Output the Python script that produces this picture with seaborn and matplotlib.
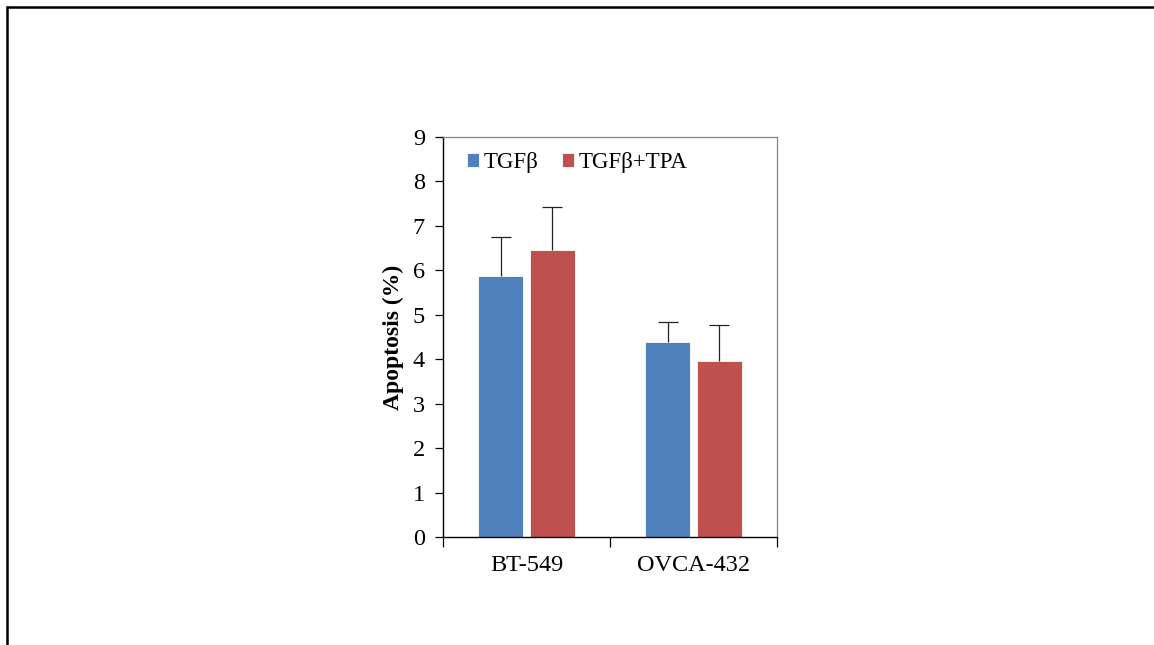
import numpy as np
import pandas as pd
import matplotlib
matplotlib.use("Agg")
import matplotlib.pyplot as plt
from matplotlib.lines import Line2D
import seaborn as sns

# values
cell_lines = ["BT-549", "OVCA-432"]
treatments = ["TGFβ", "TGFβ+TPA"]
tgfb_mean = [5.87, 4.38]
tgfb_tpa_mean = [6.45, 3.95]
tgfb_err = [0.89, 0.46]
tgfb_tpa_err = [0.98, 0.82]

colors = ["#4F81BD", "#C0504D"]

df = pd.DataFrame({
    "line": cell_lines * 2,
    "treatment": [treatments[0]] * 2 + [treatments[1]] * 2,
    "value": tgfb_mean + tgfb_tpa_mean,
    "err": tgfb_err + tgfb_tpa_err,
})

sns.set_theme(style="white")
plt.rcParams["font.family"] = ["Liberation Serif", "DejaVu Serif"]
plt.rcParams["text.color"] = "black"
plt.rcParams["axes.labelcolor"] = "black"
plt.rcParams["xtick.color"] = "black"
plt.rcParams["ytick.color"] = "black"

fig = plt.figure(figsize=(11.54, 6.45), dpi=100)
ax = fig.add_axes([0.3839, 0.1674, 0.2894, 0.6202])

sns.barplot(data=df, x="line", y="value", hue="treatment", order=cell_lines,
            hue_order=treatments, palette=colors, width=0.62, gap=0.13,
            errorbar=None, saturation=1, edgecolor="white", linewidth=0.6, ax=ax)

# upper-only error bars at the bar centres
for cont, treat in zip(ax.containers, treatments):
    sub = df[df.treatment == treat].set_index("line").loc[cell_lines]
    xs = [p.get_x() + p.get_width() / 2 for p in cont.patches]
    eb = ax.errorbar(xs, sub["value"], yerr=[np.zeros(len(xs)), sub["err"]],
                     fmt="none", ecolor="#222222", elinewidth=0.9, capsize=7, capthick=0.9)
    eb[1][0].set_visible(False)  # hide the lower cap

ax.set_ylim(0, 9)
ax.set_xlim(-0.5, 1.5)
ax.set_yticks(range(10))
ax.set_xticks([0, 1])
ax.set_xticks([-0.5, 0.5, 1.5], minor=True)
ax.tick_params(axis="y", which="major", direction="out", length=6, width=0.9,
               color="black", labelsize=17.5, pad=7, left=True)
ax.tick_params(axis="x", which="major", length=0, labelsize=17.5, pad=13)
ax.tick_params(axis="x", which="minor", direction="out", length=7, width=0.9,
               color="black", bottom=True)
ax.set_xlabel("")
ax.set_ylabel("Apoptosis (%)", fontsize=17, fontweight="bold", labelpad=6)

for side in ["top", "right"]:
    ax.spines[side].set_color("#868686")
    ax.spines[side].set_linewidth(0.9)
for side in ["left", "bottom"]:
    ax.spines[side].set_color("black")
    ax.spines[side].set_linewidth(1.0)

leg = ax.legend(loc="upper left", ncol=2, frameon=False, fontsize=16.5,
                handlelength=0.55, handleheight=0.55, handletextpad=0.2,
                columnspacing=1.0, bbox_to_anchor=(0.002, 1.02), borderaxespad=0.6)

# outer frame lines (top and left only)
fig.add_artist(Line2D([7 / 1154, 1.0], [1 - 7 / 645, 1 - 7 / 645],
                      transform=fig.transFigure, color="black", linewidth=1.8))
fig.add_artist(Line2D([7 / 1154, 7 / 1154], [0.0, 1 - 7 / 645],
                      transform=fig.transFigure, color="black", linewidth=1.8))

fig.savefig("out.png", dpi=100, facecolor="white")
